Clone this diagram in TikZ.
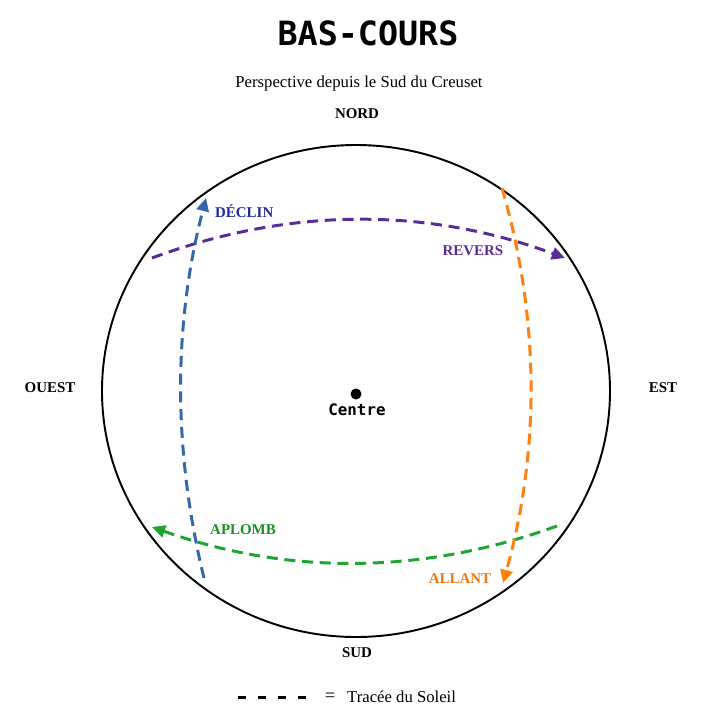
\documentclass[tikz,border=0pt]{standalone}
\usepackage{fontspec}
\setmainfont{Liberation Serif}
\setmonofont{DejaVu Sans Mono}
\usetikzlibrary{arrows.meta}
\definecolor{violet1}{RGB}{88,46,150}
\definecolor{bleu1}{RGB}{52,104,170}
\definecolor{bleu2}{RGB}{32,42,165}
\definecolor{vert1}{RGB}{30,165,50}
\definecolor{vert2}{RGB}{28,145,35}
\definecolor{orange1}{RGB}{255,128,14}
\definecolor{orange2}{RGB}{240,120,20}
\begin{document}
\begin{tikzpicture}[x=0.02cm, y=-0.02cm]
            \tikzstyle{point} = [font=\bfseries\fontsize{8.5}{10}\selectfont]
            \tikzstyle{trace} = [line width=1.7pt, dash pattern=on 6.3pt off 3.8pt]
            \tikzstyle{tip} = [-{Triangle[length=7.5pt,width=7pt]}]

            \useasboundingbox (0,0) rectangle (718,718);
            \node (titre) at (368,33) {\ttfamily\bfseries\fontsize{19}{22}\selectfont BAS-COURS};
            \node (soustitre) at (359,83) {\fontsize{9.5}{11}\selectfont Perspective depuis le Sud du Creuset};

            % horizon
            \draw[line width=1.1pt] (356,391) ellipse [x radius=254, y radius=246];
            \node[point] (nord) at (357,114) {NORD};
            \node[point] (sud) at (357,653) {SUD};
            \node[point] (ouest) at (50,388) {OUEST};
            \node[point] (est) at (663,388) {EST};
            \fill (356,394) circle (5.5);
            \node (centre) at (357,410) {\ttfamily\bfseries\fontsize{9}{10}\selectfont Centre};

            % tracees
            \coordinate (r1) at (152,258);
            \coordinate (r2) at (565,258);
            \coordinate (d1) at (204,578);
            \coordinate (d2) at (206,198);
            \coordinate (a1) at (557,526);
            \coordinate (a2) at (152,527);
            \coordinate (o1) at (502,188);
            \coordinate (o2) at (503,583);
            \draw[trace, tip, violet1] (r1) .. controls (289,207) and (427,207) .. (r2);
            \draw[trace, tip, bleu1] (d1) .. controls (173,451) and (173,325) .. (d2);
            \draw[trace, tip, vert1] (a1) .. controls (422,575) and (287,575) .. (a2);
            \draw[trace, tip, orange1] (o1) .. controls (540,319) and (540,451) .. (o2);
            \node[point, text=violet1] (revers) at (473,251) {REVERS};
            \node[point, text=bleu2, anchor=west] (declin) at (209,211) {DÉCLIN};
            \node[point, text=vert2] (aplomb) at (243,530) {APLOMB};
            \node[point, text=orange2] (allant) at (460,579) {ALLANT};

            % legende
            \foreach \i in {0,...,3}
                \draw[line width=1.7pt] (238+20*\i,697) -- ++(8,0);
            \node (egal) at (330,697) {\fontsize{10.5}{12}\selectfont =};
            \node[anchor=west] (soleil) at (341,697) {\fontsize{9.5}{11}\selectfont Tracée du Soleil};
        \end{tikzpicture}
\end{document}
